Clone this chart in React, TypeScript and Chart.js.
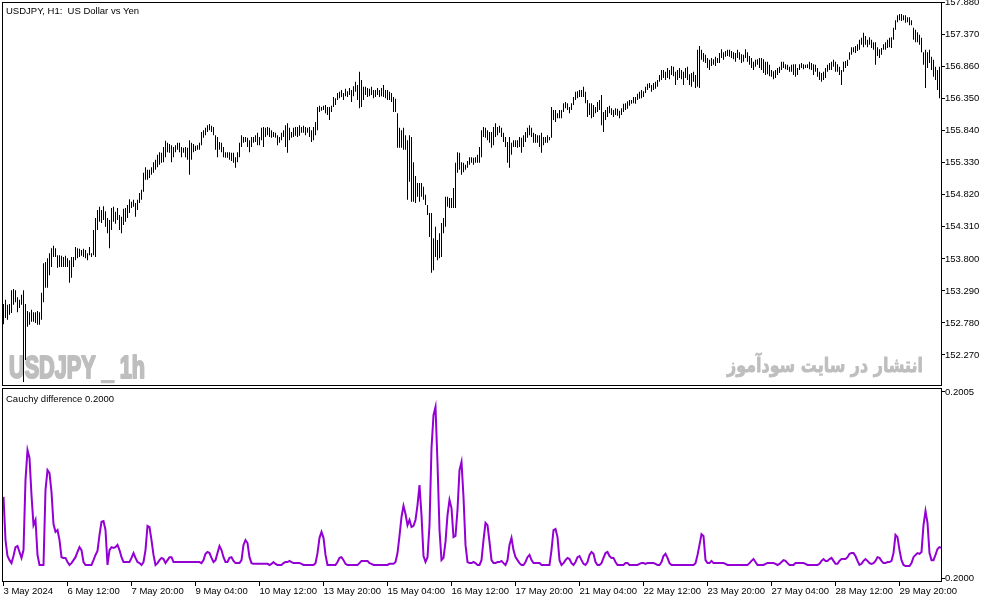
import React, { useEffect, useRef } from "react";
import { Chart, registerables } from "chart.js";

Chart.register(...registerables);

// ---- Data ----
const TITLE = "USDJPY, H1:  US Dollar vs Yen";
const IND_TITLE = "Cauchy difference 0.2000";
const WATERMARK = "USDJPY _ 1h";
const WATERMARK_FA = "انتشار در سایت سودآموز";

const PRICE_TICKS = [157.88, 157.37, 156.86, 156.35, 155.84, 155.33, 154.82, 154.31, 153.8, 153.29, 152.78, 152.27];
const IND_TICKS = [0.2005, 0.2];
const TIME_TICK_BARS = [0, 32, 64, 96, 128, 160, 192, 224, 256, 288, 320, 352, 384, 416, 448];
const TIME_LABELS = [
  "3 May 2024", "6 May 12:00", "7 May 20:00", "9 May 04:00", "10 May 12:00",
  "13 May 20:00", "15 May 04:00", "16 May 12:00", "17 May 20:00", "21 May 04:00",
  "22 May 12:00", "23 May 20:00", "27 May 04:00", "28 May 12:00", "29 May 20:00",
];

const HIGH = [
  153.08,153.15,153.07,153.08,153.30,153.32,153.30,153.19,153.15,153.23,
  153.30,153.08,152.97,152.95,152.99,152.95,152.95,152.97,152.95,153.26,
  153.73,153.75,153.81,153.89,153.97,154.01,153.97,153.86,153.86,153.85,
  153.83,153.85,153.81,153.78,153.83,153.83,153.99,153.97,153.96,153.94,
  153.96,153.94,153.89,153.99,153.89,154.26,154.45,154.58,154.63,154.58,
  154.64,154.56,154.45,154.42,154.61,154.63,154.55,154.61,154.50,154.47,
  154.60,154.61,154.66,154.75,154.71,154.74,154.69,154.74,154.85,154.90,
  155.17,155.26,155.22,155.22,155.26,155.34,155.38,155.46,155.50,155.49,
  155.58,155.68,155.65,155.63,155.61,155.58,155.61,155.65,155.65,155.58,
  155.57,155.58,155.57,155.69,155.65,155.63,155.60,155.61,155.65,155.82,
  155.85,155.89,155.93,155.95,155.92,155.90,155.77,155.74,155.66,155.65,
  155.58,155.50,155.50,155.50,155.49,155.49,155.42,155.50,155.65,155.77,
  155.74,155.74,155.73,155.69,155.74,155.74,155.77,155.81,155.74,155.89,
  155.90,155.89,155.90,155.89,155.85,155.82,155.81,155.77,155.74,155.81,
  155.85,155.93,155.96,155.89,155.82,155.89,155.90,155.90,155.93,155.90,
  155.92,155.90,155.89,155.90,155.85,155.90,155.98,156.22,156.24,156.22,
  156.24,156.25,156.22,156.22,156.24,156.38,156.36,156.44,156.46,156.49,
  156.44,156.51,156.47,156.52,156.49,156.55,156.62,156.57,156.78,156.65,
  156.54,156.54,156.52,156.51,156.54,156.49,156.49,156.52,156.49,156.52,
  156.57,156.49,156.49,156.46,156.44,156.38,156.35,156.12,155.89,155.85,
  155.89,155.77,155.69,155.77,155.74,155.34,155.12,155.01,155.01,155.01,
  154.95,154.82,154.66,154.53,154.53,154.13,154.31,154.10,154.21,154.37,
  154.45,154.79,154.79,154.77,154.77,154.93,155.33,155.50,155.49,155.34,
  155.33,155.30,155.36,155.42,155.42,155.41,155.42,155.46,155.58,155.85,
  155.90,155.89,155.85,155.82,155.82,155.90,155.96,155.90,155.92,155.89,
  155.81,155.74,155.66,155.74,155.65,155.69,155.69,155.69,155.74,155.73,
  155.77,155.82,155.89,155.93,155.89,155.81,155.79,155.77,155.77,155.81,
  155.74,155.74,155.77,155.74,156.22,156.17,156.17,156.12,156.17,156.17,
  156.28,156.30,156.28,156.22,156.28,156.38,156.46,156.47,156.49,156.49,
  156.54,156.46,156.33,156.28,156.28,156.25,156.22,156.30,156.33,156.41,
  156.14,156.17,156.22,156.24,156.20,156.17,156.20,156.19,156.16,156.20,
  156.27,156.28,156.31,156.33,156.33,156.38,156.38,156.43,156.46,156.49,
  156.47,156.54,156.59,156.60,156.57,156.60,156.62,156.65,156.73,156.81,
  156.81,156.78,156.84,156.81,156.87,156.86,156.78,156.81,156.84,156.81,
  156.78,156.84,156.86,156.74,156.76,156.78,156.73,157.13,157.19,157.13,
  157.08,157.05,157.00,156.97,157.00,156.98,157.02,157.00,157.08,157.14,
  157.09,157.11,157.13,157.13,157.11,157.09,157.08,157.13,157.09,157.06,
  157.05,157.14,157.09,157.03,157.00,156.94,156.97,156.98,157.00,157.00,
  156.98,156.94,156.94,156.89,156.81,156.79,156.81,156.84,156.86,156.94,
  156.94,156.90,156.89,156.86,156.89,156.90,156.90,156.84,156.90,156.92,
  156.90,156.89,156.90,156.94,156.92,156.90,156.89,156.84,156.78,156.76,
  156.78,156.84,156.89,156.92,156.94,156.97,156.94,156.90,156.86,156.81,
  156.94,156.95,156.97,157.09,157.17,157.17,157.19,157.22,157.29,157.32,
  157.40,157.35,157.29,157.33,157.29,157.25,157.25,157.17,157.14,157.16,
  157.22,157.25,157.29,157.32,157.33,157.48,157.60,157.68,157.70,157.70,
  157.68,157.68,157.65,157.65,157.60,157.48,157.45,157.41,157.37,157.32,
  157.09,157.13,157.09,157.13,157.02,156.97,156.86,156.81,156.86,156.78,
];

const LOW = [
  152.76,152.86,152.83,152.91,152.94,153.07,153.11,152.95,153.02,153.07,
  151.84,152.19,152.72,152.75,152.80,152.80,152.78,152.75,152.75,152.83,
  153.11,153.34,153.34,153.54,153.67,153.83,153.83,153.66,153.67,153.67,
  153.67,153.67,153.67,153.42,153.50,153.67,153.78,153.81,153.83,153.85,
  153.83,153.81,153.78,153.86,153.83,153.86,153.83,154.26,154.39,154.37,
  154.42,154.31,154.21,153.97,154.26,154.39,154.36,154.42,154.26,154.21,
  154.34,154.39,154.45,154.53,154.61,154.63,154.47,154.58,154.69,154.74,
  154.87,155.06,155.06,155.09,155.14,155.17,155.22,155.26,155.30,155.33,
  155.34,155.42,155.50,155.49,155.34,155.42,155.50,155.54,155.50,155.42,
  155.49,155.42,155.38,155.14,155.38,155.50,155.52,155.54,155.54,155.61,
  155.73,155.77,155.82,155.85,155.82,155.77,155.54,155.42,155.54,155.50,
  155.42,155.41,155.41,155.38,155.36,155.33,155.25,155.34,155.42,155.58,
  155.65,155.66,155.58,155.50,155.58,155.65,155.66,155.61,155.61,155.69,
  155.58,155.74,155.77,155.74,155.73,155.74,155.73,155.61,155.65,155.69,
  155.74,155.58,155.49,155.69,155.73,155.74,155.76,155.74,155.76,155.81,
  155.81,155.77,155.81,155.74,155.66,155.69,155.77,155.85,156.14,156.16,
  156.17,156.12,156.09,156.01,156.14,156.22,156.25,156.33,156.36,156.38,
  156.33,156.39,156.38,156.41,156.30,156.39,156.46,156.33,156.20,156.22,
  156.33,156.41,156.38,156.39,156.41,156.36,156.38,156.41,156.38,156.39,
  156.38,156.36,156.33,156.33,156.30,156.14,156.14,155.57,155.57,155.57,
  155.54,155.54,154.74,155.03,154.71,154.71,154.69,154.79,154.71,154.79,
  154.74,154.66,154.50,154.15,153.58,153.62,153.83,153.78,153.81,153.83,
  154.21,154.31,154.63,154.61,154.61,154.61,154.61,155.17,155.22,155.14,
  155.18,155.22,155.25,155.30,155.33,155.30,155.33,155.33,155.33,155.42,
  155.74,155.73,155.69,155.65,155.57,155.61,155.74,155.77,155.81,155.74,
  155.66,155.58,155.33,155.25,155.46,155.58,155.58,155.57,155.58,155.49,
  155.58,155.66,155.73,155.77,155.74,155.65,155.65,155.65,155.58,155.49,
  155.61,155.65,155.65,155.69,155.73,156.01,155.98,156.04,156.04,156.04,
  156.14,156.20,156.17,156.12,156.17,156.25,156.33,156.36,156.38,156.38,
  156.38,156.28,156.06,156.09,156.04,156.06,156.12,156.14,156.17,155.93,
  155.82,156.01,156.06,156.12,156.09,156.06,156.09,156.08,156.04,156.09,
  156.14,156.17,156.19,156.24,156.27,156.28,156.27,156.33,156.35,156.36,
  156.38,156.44,156.49,156.52,156.46,156.49,156.51,156.54,156.62,156.65,
  156.68,156.65,156.68,156.66,156.73,156.71,156.57,156.65,156.68,156.66,
  156.57,156.68,156.65,156.57,156.54,156.62,156.52,156.54,156.52,156.97,
  156.94,156.92,156.84,156.81,156.87,156.89,156.87,156.92,156.92,157.00,
  156.97,157.02,157.03,157.02,157.00,156.98,156.94,157.00,156.97,156.92,
  156.94,157.00,156.94,156.89,156.84,156.81,156.86,156.89,156.84,156.81,
  156.76,156.73,156.74,156.71,156.70,156.66,156.68,156.73,156.76,156.81,
  156.84,156.82,156.81,156.78,156.78,156.73,156.70,156.73,156.81,156.84,
  156.82,156.84,156.84,156.82,156.81,156.73,156.78,156.70,156.65,156.62,
  156.65,156.68,156.78,156.81,156.81,156.86,156.78,156.78,156.73,156.57,
  156.78,156.84,156.87,156.97,157.05,157.09,157.08,157.11,157.13,157.21,
  157.17,157.21,157.17,157.21,157.16,157.13,156.89,157.03,157.00,157.05,
  157.13,157.13,157.16,157.17,157.16,157.29,157.45,157.57,157.60,157.59,
  157.60,157.56,157.57,157.52,157.52,157.29,157.25,157.25,157.21,157.09,
  156.89,156.52,156.84,156.92,156.81,156.70,156.65,156.49,156.36,156.57,
];

const CAUCHY = [
  0.200218,0.200102,0.200059,0.200048,0.200040,0.200059,0.200083,0.200086,0.200070,0.200054,
  0.200075,0.200263,0.200344,0.200323,0.200223,0.200142,0.200156,0.200062,0.200035,0.200035,
  0.200035,0.200237,0.200290,0.200282,0.200231,0.200145,0.200124,0.200129,0.200102,0.200056,
  0.200054,0.200054,0.200043,0.200035,0.200040,0.200048,0.200056,0.200070,0.200083,0.200075,
  0.200043,0.200035,0.200035,0.200035,0.200035,0.200048,0.200062,0.200073,0.200116,0.200151,
  0.200153,0.200129,0.200035,0.200075,0.200083,0.200081,0.200083,0.200089,0.200075,0.200056,
  0.200043,0.200043,0.200043,0.200043,0.200054,0.200067,0.200054,0.200043,0.200040,0.200035,
  0.200043,0.200075,0.200140,0.200137,0.200102,0.200062,0.200035,0.200040,0.200048,0.200054,
  0.200051,0.200040,0.200048,0.200056,0.200056,0.200043,0.200043,0.200043,0.200043,0.200043,
  0.200043,0.200043,0.200043,0.200043,0.200043,0.200043,0.200043,0.200043,0.200043,0.200040,
  0.200048,0.200065,0.200070,0.200067,0.200054,0.200043,0.200048,0.200067,0.200086,0.200075,
  0.200056,0.200043,0.200043,0.200054,0.200056,0.200046,0.200040,0.200040,0.200040,0.200048,
  0.200089,0.200102,0.200094,0.200056,0.200040,0.200038,0.200038,0.200038,0.200038,0.200038,
  0.200038,0.200038,0.200038,0.200035,0.200038,0.200043,0.200038,0.200035,0.200035,0.200035,
  0.200040,0.200043,0.200043,0.200046,0.200043,0.200040,0.200040,0.200040,0.200040,0.200038,
  0.200035,0.200035,0.200035,0.200035,0.200035,0.200035,0.200040,0.200067,0.200108,0.200124,
  0.200108,0.200062,0.200035,0.200035,0.200035,0.200035,0.200035,0.200043,0.200054,0.200056,
  0.200048,0.200038,0.200035,0.200035,0.200035,0.200035,0.200035,0.200035,0.200040,0.200046,
  0.200046,0.200046,0.200046,0.200040,0.200038,0.200035,0.200035,0.200035,0.200035,0.200035,
  0.200035,0.200035,0.200035,0.200038,0.200038,0.200038,0.200043,0.200067,0.200113,0.200164,
  0.200194,0.200172,0.200142,0.200156,0.200137,0.200140,0.200156,0.200196,0.200250,0.200169,
  0.200059,0.200043,0.200056,0.200142,0.200349,0.200438,0.200460,0.200309,0.200129,0.200048,
  0.200054,0.200097,0.200169,0.200210,0.200188,0.200110,0.200113,0.200183,0.200290,0.200312,
  0.200218,0.200089,0.200043,0.200040,0.200040,0.200043,0.200040,0.200035,0.200035,0.200048,
  0.200102,0.200148,0.200142,0.200097,0.200048,0.200040,0.200040,0.200043,0.200043,0.200046,
  0.200040,0.200035,0.200048,0.200089,0.200108,0.200075,0.200056,0.200048,0.200040,0.200035,
  0.200035,0.200043,0.200056,0.200062,0.200048,0.200040,0.200040,0.200040,0.200040,0.200035,
  0.200035,0.200035,0.200035,0.200035,0.200075,0.200129,0.200132,0.200110,0.200048,0.200035,
  0.200040,0.200048,0.200054,0.200051,0.200040,0.200035,0.200043,0.200056,0.200059,0.200048,
  0.200038,0.200035,0.200043,0.200062,0.200070,0.200065,0.200043,0.200035,0.200035,0.200040,
  0.200054,0.200067,0.200070,0.200059,0.200054,0.200054,0.200043,0.200035,0.200035,0.200035,
  0.200035,0.200040,0.200040,0.200035,0.200035,0.200035,0.200035,0.200035,0.200038,0.200040,
  0.200040,0.200038,0.200040,0.200040,0.200040,0.200040,0.200038,0.200035,0.200035,0.200043,
  0.200059,0.200065,0.200054,0.200040,0.200035,0.200035,0.200035,0.200035,0.200035,0.200035,
  0.200035,0.200035,0.200035,0.200035,0.200035,0.200035,0.200040,0.200062,0.200089,0.200118,
  0.200113,0.200048,0.200040,0.200040,0.200046,0.200040,0.200040,0.200040,0.200040,0.200040,
  0.200040,0.200038,0.200035,0.200035,0.200035,0.200035,0.200035,0.200035,0.200035,0.200035,
  0.200035,0.200035,0.200035,0.200040,0.200046,0.200051,0.200043,0.200035,0.200035,0.200035,
  0.200035,0.200038,0.200040,0.200040,0.200040,0.200040,0.200038,0.200035,0.200038,0.200043,
  0.200048,0.200046,0.200040,0.200035,0.200035,0.200035,0.200040,0.200040,0.200040,0.200040,
  0.200040,0.200038,0.200035,0.200035,0.200035,0.200035,0.200035,0.200035,0.200038,0.200046,
  0.200051,0.200046,0.200046,0.200051,0.200054,0.200046,0.200038,0.200038,0.200046,0.200051,
  0.200051,0.200051,0.200056,0.200065,0.200067,0.200067,0.200059,0.200046,0.200035,0.200038,
  0.200046,0.200051,0.200046,0.200040,0.200038,0.200040,0.200046,0.200056,0.200054,0.200046,
  0.200040,0.200040,0.200043,0.200043,0.200046,0.200067,0.200116,0.200110,0.200075,0.200048,
  0.200035,0.200032,0.200032,0.200032,0.200040,0.200056,0.200062,0.200067,0.200065,0.200070,
  0.200142,0.200180,0.200148,0.200067,0.200048,0.200048,0.200062,0.200078,0.200083,0.200081,
];

// ---- Scale ranges ----
const N = HIGH.length;
const X_MIN = -0.75;
const X_MAX = N - 0.75;
const PRICE_MIN = 151.776;
const PRICE_MAX = 157.891;
const IND_MIN = 0.19998925;
const IND_MAX = 0.20051075;

const FONT_FAMILY = '"Liberation Sans", Arial, sans-serif';
const TICK_FONT = { family: FONT_FAMILY, size: 9.5 };

const framePlugin = {
  id: "frame",
  afterDraw(chart: any) {
    const { ctx, chartArea: a } = chart;
    ctx.save();
    ctx.strokeStyle = "#000";
    ctx.lineWidth = 1;
    ctx.strokeRect(a.left + 0.5, a.top + 0.5, a.right - a.left - 1, a.bottom - a.top - 1);
    ctx.restore();
  },
};

const topTextPlugin = {
  id: "topText",
  beforeDatasetsDraw(chart: any) {
    const ctx = chart.ctx;
    ctx.save();
    ctx.fillStyle = "#bebebe";
    ctx.strokeStyle = "#bebebe";
    ctx.lineJoin = "round";
    ctx.textBaseline = "alphabetic";
    ctx.textAlign = "left";
    ctx.font = 'bold 31px "Liberation Sans", Arial, sans-serif';
    ctx.lineWidth = 2.2;
    ctx.fillText(WATERMARK, 9, 378, 136);
    ctx.strokeText(WATERMARK, 9, 378, 136);
    ctx.font = 'bold 20px "DejaVu Sans", sans-serif';
    ctx.textAlign = "right";
    ctx.lineWidth = 0.8;
    ctx.fillText(WATERMARK_FA, 923, 372, 196);
    ctx.strokeText(WATERMARK_FA, 923, 372, 196);
    ctx.restore();
  },
  afterDraw(chart: any) {
    const ctx = chart.ctx;
    ctx.save();
    ctx.fillStyle = "#000";
    ctx.textBaseline = "alphabetic";
    ctx.textAlign = "left";
    ctx.font = `9.5px ${FONT_FAMILY}`;
    ctx.fillText(TITLE, 6, 13.5);
    ctx.restore();
  },
};

const botTextPlugin = {
  id: "botText",
  afterDraw(chart: any) {
    const ctx = chart.ctx;
    ctx.save();
    ctx.fillStyle = "#000";
    ctx.textBaseline = "alphabetic";
    ctx.textAlign = "left";
    ctx.font = `9.5px ${FONT_FAMILY}`;
    ctx.fillText(IND_TITLE, 6, 15.5);
    ctx.restore();
  },
};

export default function App() {
  const topRef = useRef<HTMLCanvasElement | null>(null);
  const botRef = useRef<HTMLCanvasElement | null>(null);

  useEffect(() => {
    if (!topRef.current || !botRef.current) return;

    const top = new Chart(topRef.current, {
      type: "bar",
      data: {
        datasets: [
          {
            data: HIGH.map((h, i) => ({ x: i, y: [LOW[i], h] })) as any,
            backgroundColor: "#000",
            borderWidth: 0,
            barThickness: 1,
            inflateAmount: 0,
          } as any,
        ],
      },
      options: {
        responsive: false,
        animation: false,
        events: [],
        layout: { padding: { left: 2, top: 2, right: 0, bottom: 1 } },
        plugins: { legend: { display: false }, tooltip: { enabled: false } },
        scales: {
          x: { type: "linear", display: false, min: X_MIN, max: X_MAX, offset: false, grid: { offset: false } },
          y: {
            position: "right",
            min: PRICE_MIN,
            max: PRICE_MAX,
            afterBuildTicks(s: any) {
              s.ticks = PRICE_TICKS.map((v) => ({ value: v }));
            },
            afterFit(s: any) {
              s.width = 52;
              s.paddingTop = 0;
              s.paddingBottom = 0;
            },
            ticks: {
              callback: (v: any) => Number(v).toFixed(3),
              font: TICK_FONT,
              color: "#000",
              padding: 0,
              autoSkip: false,
            },
            grid: { drawOnChartArea: false, drawTicks: true, tickLength: 3, color: "#000" },
            border: { display: false },
          },
        },
      } as any,
      plugins: [framePlugin, topTextPlugin],
    });

    const bot = new Chart(botRef.current, {
      type: "line",
      data: {
        datasets: [
          {
            data: CAUCHY.map((v, i) => ({ x: i, y: v })) as any,
            borderColor: "#9400D3",
            borderWidth: 2,
            pointRadius: 0,
            tension: 0,
            fill: false,
          },
        ],
      },
      options: {
        responsive: false,
        animation: false,
        events: [],
        layout: { padding: { left: 2, top: 2, right: 0, bottom: 0 } },
        plugins: { legend: { display: false }, tooltip: { enabled: false } },
        scales: {
          x: {
            type: "linear",
            min: X_MIN,
            max: X_MAX,
            offset: false,
            afterBuildTicks(s: any) {
              s.ticks = TIME_TICK_BARS.map((v) => ({ value: v }));
            },
            afterFit(s: any) {
              s.height = 21;
              s.paddingLeft = 0;
              s.paddingRight = 0;
            },
            ticks: {
              callback: (_v: any, idx: number) => TIME_LABELS[idx],
              align: "start",
              autoSkip: false,
              maxRotation: 0,
              minRotation: 0,
              padding: 0,
              font: TICK_FONT,
              color: "#000",
            },
            grid: { drawOnChartArea: false, drawTicks: true, tickLength: 4, color: "#000", offset: false },
            border: { display: false },
          },
          y: {
            position: "right",
            min: IND_MIN,
            max: IND_MAX,
            afterBuildTicks(s: any) {
              s.ticks = IND_TICKS.map((v) => ({ value: v }));
            },
            afterFit(s: any) {
              s.width = 52;
              s.paddingTop = 0;
              s.paddingBottom = 0;
            },
            ticks: {
              callback: (v: any) => Number(v).toFixed(4),
              font: TICK_FONT,
              color: "#000",
              padding: 0,
              autoSkip: false,
            },
            grid: { drawOnChartArea: false, drawTicks: true, tickLength: 3, color: "#000" },
            border: { display: false },
          },
        },
      } as any,
      plugins: [framePlugin, botTextPlugin],
    });

    return () => {
      top.destroy();
      bot.destroy();
    };
  }, []);

  return (
    <div
      style={{
        position: "fixed",
        left: 0,
        top: 0,
        width: 994,
        height: 603,
        background: "#fff",
        overflow: "hidden",
      }}
    >
      <canvas
        ref={topRef}
        width={994}
        height={387}
        style={{ position: "absolute", left: 0, top: 0, width: 994, height: 387 }}
      />
      <canvas
        ref={botRef}
        width={994}
        height={217}
        style={{ position: "absolute", left: 0, top: 386, width: 994, height: 217 }}
      />
    </div>
  );
}
